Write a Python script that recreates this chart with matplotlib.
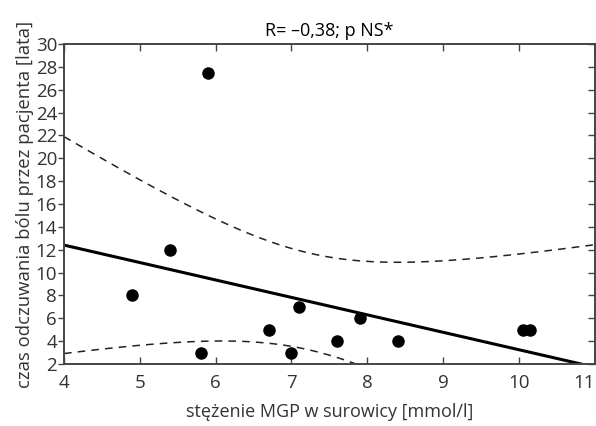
import numpy as np
import matplotlib
matplotlib.use("Agg")
import matplotlib.pyplot as plt

# MGP concentration [mmol/l] vs. pain duration [years]
mgp = [4.9, 5.4, 5.8, 5.9, 6.7, 7.0, 7.1, 7.6, 7.9, 8.4, 10.05, 10.15]
pain_years = [8, 12, 3, 27.5, 5, 3, 7, 4, 6, 4, 5, 5]

x_ticks = [4, 5, 6, 7, 8, 9, 10, 11]
y_ticks = list(range(2, 31, 2))

T_CRIT = 2.228  # t(0.975, df=10)

plt.rcParams["font.family"] = ["Open Sans", "DejaVu Sans"]

x = np.asarray(mgp, dtype=float)
y = np.asarray(pain_years, dtype=float)
n = len(x)
slope, intercept = np.polyfit(x, y, 1)
resid = y - (slope * x + intercept)
s = np.sqrt(np.sum(resid ** 2) / (n - 2))
sxx = np.sum((x - x.mean()) ** 2)

xs = np.linspace(4, 11, 200)
fit = slope * xs + intercept
half = T_CRIT * s * np.sqrt(1 / n + (xs - x.mean()) ** 2 / sxx)

fig = plt.figure(figsize=(5.96, 4.26), dpi=100)
ax = fig.add_axes([0.1074, 0.1455, 0.8906, 0.7512])

ax.plot(xs, fit, color="black", lw=2.2, solid_capstyle="butt")
ax.plot(xs, fit + half, color="#222222", lw=1.1, dashes=(5, 4))
ax.plot(xs, fit - half, color="#222222", lw=1.1, dashes=(5, 4))
ax.plot(x, y, "o", color="black", ms=8, mec="black")

ax.set_xlim(4, 11)
ax.set_ylim(2, 30)
ax.set_xticks(x_ticks)
ax.set_yticks(y_ticks)

grey = "#444444"
for sp in ax.spines.values():
    sp.set_color(grey)
    sp.set_linewidth(1.4)

ax.tick_params(axis="x", direction="in", top=True, length=5, width=1.0,
               color=grey, labelsize=13.5, labelcolor="#333333", pad=7)
ax.tick_params(axis="y", which="both", direction="out", left=True, length=4,
               width=1.0, color=grey, labelsize=13.5, labelcolor="#333333", pad=1)
ax.tick_params(axis="y", right=True)
# right-side ticks point inward while left ones point outward
for t in ax.yaxis.get_major_ticks():
    t.tick2line.set_marker(matplotlib.lines.TICKLEFT)
    t.tick2line.set_markersize(5)

# keep the last x label inside the figure
fig.canvas.draw()
ax.get_xticklabels()[-1].set_horizontalalignment("right")

ax.set_xlabel("stężenie MGP w surowicy [mmol/l]", fontsize=13,
              color="#333333", labelpad=8)
ax.set_ylabel("czas odczuwania bólu przez pacjenta [lata]", fontsize=13.3,
              color="#333333", labelpad=1)
ax.set_title("R= \u20130,38; p NS*", fontsize=13, color="black", pad=6)

fig.savefig("out.png", dpi=100)
